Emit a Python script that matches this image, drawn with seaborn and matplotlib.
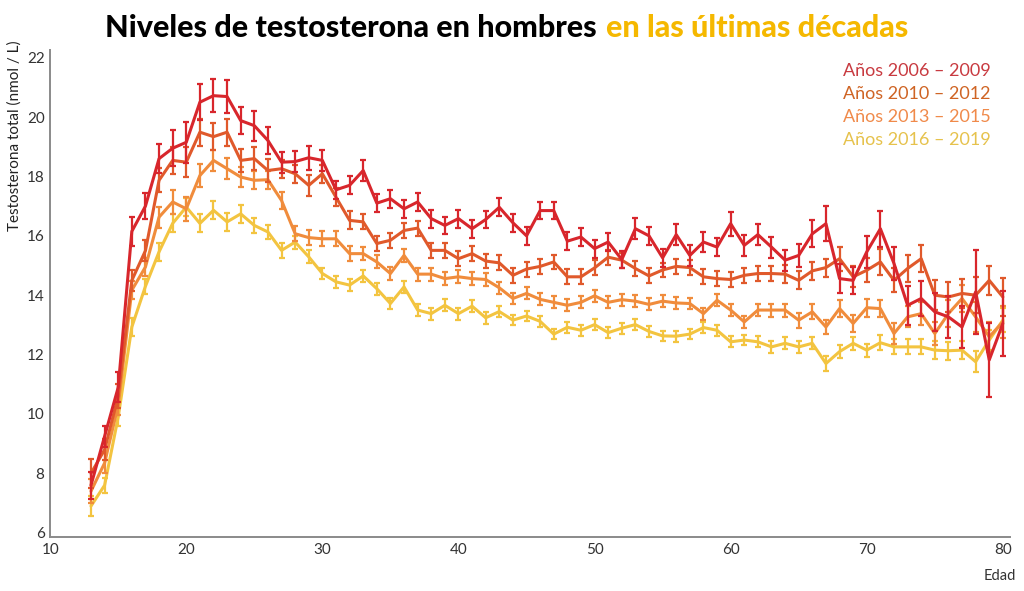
import numpy as np
import pandas as pd
import matplotlib
matplotlib.use("Agg")
import matplotlib.pyplot as plt
import seaborn as sns

ages = list(range(13, 81))

series = ["Años 2006 – 2009", "Años 2010 – 2012", "Años 2013 – 2015", "Años 2016 – 2019"]

t_2006 = [7.6, 9.25, 10.9, 16.15, 17.0, 18.6, 18.95, 19.15, 20.5, 20.72,
          20.69, 19.88, 19.71, 19.21, 18.48, 18.5, 18.63, 18.54, 17.55, 17.7,
          18.2, 17.1, 17.25, 16.91, 17.14, 16.58, 16.35, 16.58, 16.24, 16.55,
          16.96, 16.44, 16.0, 16.85, 16.85, 15.82, 15.96, 15.57, 15.79, 15.2,
          16.24, 16.0, 15.26, 16.04, 15.34, 15.79, 15.62, 16.41, 15.68, 16.04,
          15.62, 15.18, 15.34, 16.07, 16.41, 14.56, 14.5, 15.46, 16.24, 15.07,
          13.66, 13.89, 13.44, 13.27, 12.93, 14.11, 11.82, 13.05]
t_2010 = [8.0, 8.8, 10.6, 14.5, 15.5, 17.87, 18.54, 18.48, 19.49, 19.34,
          19.49, 18.54, 18.6, 18.2, 18.26, 18.09, 17.7, 18.09, 17.3, 16.52,
          16.47, 15.74, 15.85, 16.18, 16.26, 15.51, 15.51, 15.23, 15.4, 15.15,
          15.09, 14.67, 14.88, 14.97, 15.12, 14.62, 14.62, 14.92, 15.28, 15.18,
          14.9, 14.65, 14.85, 14.97, 14.93, 14.62, 14.56, 14.53, 14.67, 14.73,
          14.73, 14.71, 14.5, 14.82, 14.93, 15.23, 14.62, 14.84, 15.12, 14.5,
          14.9, 15.23, 14.0, 13.94, 14.06, 14.0, 14.5, 13.94]
t_2013 = [7.4, 8.35, 10.3, 14.17, 14.95, 16.63, 17.14, 16.91, 18.03, 18.54,
          18.26, 17.98, 17.87, 17.89, 17.19, 16.07, 15.94, 15.9, 15.9, 15.4,
          15.4, 15.12, 14.73, 15.34, 14.71, 14.71, 14.56, 14.62, 14.56, 14.53,
          14.25, 13.89, 14.06, 13.86, 13.76, 13.66, 13.76, 13.98, 13.76, 13.85,
          13.8, 13.69, 13.8, 13.74, 13.72, 13.38, 13.83, 13.5, 13.1, 13.5,
          13.5, 13.5, 13.16, 13.44, 12.93, 13.55, 13.05, 13.58, 13.55, 12.71,
          13.27, 13.38, 12.71, 13.38, 13.89, 13.27, 12.6, 13.1]
t_2016 = [6.9, 7.6, 9.9, 12.93, 14.3, 15.46, 16.42, 16.97, 16.42, 16.86,
          16.47, 16.74, 16.35, 16.13, 15.51, 15.79, 15.29, 14.73, 14.45, 14.34,
          14.65, 14.22, 13.72, 14.28, 13.5, 13.38, 13.66, 13.38, 13.63, 13.24,
          13.45, 13.16, 13.3, 13.12, 12.69, 12.92, 12.82, 13.01, 12.74, 12.89,
          13.01, 12.78, 12.63, 12.62, 12.69, 12.91, 12.82, 12.43, 12.49, 12.43,
          12.26, 12.38, 12.26, 12.38, 11.7, 12.1, 12.38, 12.15, 12.4, 12.26,
          12.26, 12.26, 12.15, 12.13, 12.15, 11.76, 12.49, 13.16]

# error bar half widths
e_2006 = [0.45, 0.35, 0.5, 0.5, 0.45, 0.5, 0.6, 0.7, 0.6, 0.55,
          0.55, 0.45, 0.5, 0.45, 0.35, 0.35, 0.4, 0.35, 0.3, 0.3,
          0.35, 0.3, 0.3, 0.3, 0.3, 0.3, 0.3, 0.3, 0.3, 0.3,
          0.3, 0.3, 0.3, 0.3, 0.3, 0.3, 0.3, 0.3, 0.3, 0.3,
          0.35, 0.3, 0.3, 0.35, 0.35, 0.35, 0.3, 0.4, 0.35, 0.35,
          0.35, 0.35, 0.4, 0.45, 0.6, 0.5, 0.45, 0.55, 0.6, 0.55,
          0.65, 0.6, 0.65, 0.7, 0.7, 1.4, 1.25, 1.1]
e_2010 = [0.5, 0.35, 0.4, 0.35, 0.35, 0.4, 0.45, 0.5, 0.45, 0.45,
          0.45, 0.4, 0.4, 0.4, 0.3, 0.3, 0.35, 0.3, 0.3, 0.3,
          0.25, 0.25, 0.25, 0.25, 0.25, 0.25, 0.25, 0.25, 0.25, 0.25,
          0.25, 0.25, 0.25, 0.25, 0.25, 0.25, 0.25, 0.25, 0.25, 0.25,
          0.25, 0.25, 0.25, 0.25, 0.25, 0.25, 0.25, 0.25, 0.25, 0.25,
          0.25, 0.3, 0.3, 0.3, 0.3, 0.4, 0.35, 0.4, 0.45, 0.4,
          0.45, 0.45, 0.5, 0.5, 0.5, 0.6, 0.5, 0.65]
e_2013 = [0.4, 0.35, 0.35, 0.3, 0.3, 0.35, 0.4, 0.4, 0.4, 0.35,
          0.35, 0.35, 0.3, 0.3, 0.3, 0.25, 0.25, 0.25, 0.25, 0.25,
          0.22, 0.22, 0.22, 0.22, 0.22, 0.22, 0.22, 0.22, 0.22, 0.22,
          0.2, 0.2, 0.2, 0.2, 0.2, 0.2, 0.2, 0.2, 0.2, 0.2,
          0.2, 0.2, 0.2, 0.2, 0.2, 0.2, 0.2, 0.2, 0.2, 0.2,
          0.22, 0.22, 0.25, 0.25, 0.25, 0.3, 0.3, 0.3, 0.3, 0.35,
          0.35, 0.4, 0.4, 0.45, 0.45, 0.5, 0.5, 0.55]
e_2016 = [0.35, 0.25, 0.3, 0.3, 0.25, 0.3, 0.3, 0.3, 0.3, 0.3,
          0.3, 0.3, 0.25, 0.25, 0.25, 0.22, 0.22, 0.2, 0.2, 0.2,
          0.2, 0.2, 0.2, 0.2, 0.2, 0.2, 0.2, 0.2, 0.2, 0.2,
          0.18, 0.18, 0.18, 0.18, 0.18, 0.18, 0.18, 0.18, 0.18, 0.18,
          0.18, 0.18, 0.18, 0.18, 0.18, 0.18, 0.18, 0.18, 0.18, 0.18,
          0.2, 0.2, 0.2, 0.2, 0.25, 0.22, 0.22, 0.22, 0.25, 0.25,
          0.25, 0.25, 0.3, 0.3, 0.3, 0.35, 0.35, 0.4]

line_colors = ["#d8262c", "#e0592b", "#f08c3c", "#f3c440"]
text_colors = ["#c83a40", "#cf6424", "#f08a4a", "#e6c24c"]

# long table: low / mid / high per point, seaborn gives mean + min-max bar
rows = []
for name, vals, errs in zip(series, [t_2006, t_2010, t_2013, t_2016],
                            [e_2006, e_2010, e_2013, e_2016]):
    for a, v, e in zip(ages, vals, errs):
        for d in (-e, 0.0, e):
            rows.append({"Edad": a, "valor": v + d, "serie": name})
df = pd.DataFrame(rows)

sns.set_style("white")
plt.rcParams["font.family"] = ["Lato", "DejaVu Sans"]

fig, ax = plt.subplots(figsize=(10.24, 5.91), dpi=100)
fig.subplots_adjust(left=0.049, right=0.986, bottom=0.091, top=0.915)

sns.lineplot(data=df, x="Edad", y="valor", hue="serie",
             hue_order=series[::-1], palette=dict(zip(series, line_colors)),
             estimator="mean", errorbar=("pi", 100), err_style="bars",
             err_kws={"capsize": 2.2, "elinewidth": 1.6, "capthick": 1.6},
             linewidth=2.2, legend=False, ax=ax)

ax.set_xlim(10, 80.5)
ax.set_ylim(5.85, 22.25)
ax.set_xticks(range(10, 81, 10))
ax.set_yticks(range(6, 23, 2))
ax.tick_params(axis="both", length=0, labelsize=11, labelcolor="#333333", pad=4)
sns.despine(ax=ax)
for s in ("left", "bottom"):
    ax.spines[s].set_color("#8a8a8a")
    ax.spines[s].set_linewidth(1.4)

ax.set_ylabel("Testosterona total (nmol / L)", fontsize=11, color="#222222")
ax.yaxis.set_label_coords(-0.03, 1.02)
ax.yaxis.label.set_horizontalalignment("right")
ax.set_xlabel("Edad", fontsize=10.5, color="#333333")
ax.xaxis.set_label_coords(0.99, -0.065)

for i, (name, c) in enumerate(zip(series, text_colors)):
    fig.text(0.823, 1 - (71 + 23 * i) / 591, name, color=c, fontsize=13,
             va="center", ha="left")

# two-colour title, second part placed right after the first
t1 = fig.text(0.103, 1 - 28 / 591, "Niveles de testosterona en hombres", fontsize=22,
              fontweight="black", color="black", va="center", ha="left")
fig.canvas.draw()
bb = t1.get_window_extent(renderer=fig.canvas.get_renderer())
x2 = (bb.x1 + 9) / fig.bbox.width
fig.text(x2, 1 - 28 / 591, "en las últimas décadas", fontsize=22,
         fontweight="black", color="#f5b800", va="center", ha="left")

fig.savefig("out.png", dpi=100)
